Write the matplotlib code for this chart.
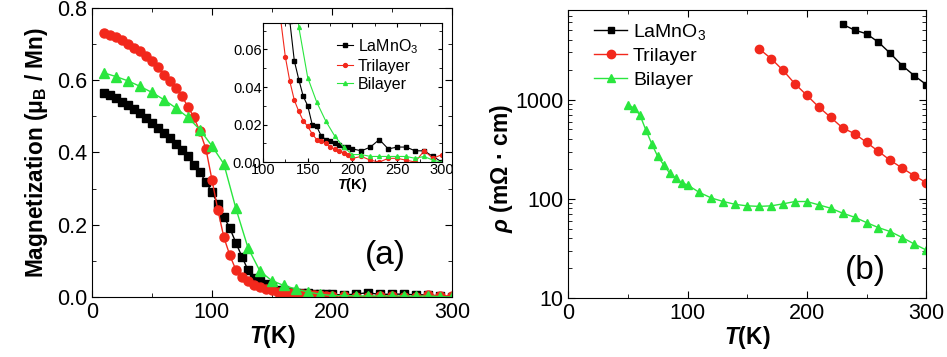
import numpy as np
import matplotlib
matplotlib.use("Agg")
import matplotlib.pyplot as plt
from matplotlib.ticker import MultipleLocator, LogLocator, NullFormatter, FixedLocator

plt.rcParams['font.family'] = ['Liberation Sans', 'DejaVu Sans']
plt.rcParams['mathtext.fontset'] = 'custom'
plt.rcParams['mathtext.rm'] = 'Liberation Sans'
plt.rcParams['mathtext.it'] = 'Liberation Sans:italic:bold'
plt.rcParams['mathtext.bf'] = 'Liberation Sans:bold'

# ---------------- Data: panel (a) magnetization ----------------
T_la_m = [10, 15, 20, 25, 30, 35, 40, 45, 50, 55, 60, 65, 70, 75, 80, 85, 90, 95, 100,
          105, 110, 115, 120, 125, 130, 135, 140, 145, 150, 155, 160, 165, 170, 175,
          180, 185, 190, 195, 200, 210, 220, 230, 240, 250, 260, 270, 280, 290, 300]
M_la = [0.565, 0.56, 0.55, 0.54, 0.53, 0.52, 0.508, 0.495, 0.482, 0.468, 0.455, 0.44,
        0.424, 0.408, 0.39, 0.365, 0.345, 0.318, 0.29, 0.258, 0.222, 0.19, 0.15, 0.112,
        0.075, 0.054, 0.044, 0.035, 0.030, 0.020, 0.019, 0.014, 0.012, 0.011, 0.010,
        0.009, 0.008, 0.008, 0.007, 0.006, 0.008, 0.012, 0.007, 0.008, 0.008, 0.006,
        0.006, 0.003, 0.000]

T_tri_m = [10, 15, 20, 25, 30, 35, 40, 45, 50, 55, 60, 65, 70, 75, 80, 85, 90, 95, 100,
           105, 110, 115, 120, 125, 130, 135, 140, 145, 150, 155, 160, 165, 170, 175,
           180, 185, 190, 195, 200, 210, 220, 230, 240, 250, 260, 270, 280, 290, 300]
M_tri = [0.73, 0.725, 0.718, 0.71, 0.70, 0.69, 0.68, 0.667, 0.652, 0.635, 0.615, 0.598,
         0.578, 0.555, 0.527, 0.497, 0.458, 0.41, 0.325, 0.24, 0.165, 0.115, 0.075,
         0.056, 0.043, 0.033, 0.027, 0.022, 0.019, 0.015, 0.012, 0.011, 0.010, 0.008,
         0.007, 0.006, 0.005, 0.004, 0.002, 0.003, 0.001, 0.000, 0.002, 0.002, 0.001,
         0.000, 0.006, 0.002, 0.004]

T_bi_m = [10, 20, 30, 40, 50, 60, 70, 80, 90, 100, 110, 120, 130, 140, 150, 160, 170,
          180, 190, 200, 210, 220, 230, 240, 250, 260, 270, 280, 290, 300]
M_bi = [0.62, 0.61, 0.598, 0.583, 0.566, 0.546, 0.523, 0.497, 0.463, 0.418, 0.368,
        0.245, 0.137, 0.072, 0.045, 0.032, 0.022, 0.014, 0.008, 0.004, 0.004, 0.003,
        0.003, 0.003, 0.003, 0.003, 0.002, 0.003, 0.001, 0.000]

# ---------------- Data: panel (b) resistivity ----------------
T_la_r = [230, 240, 250, 260, 270, 280, 290, 300]
R_la = [5730, 5020, 4610, 3790, 2920, 2200, 1745, 1420]

T_tri_r = [160, 170, 180, 190, 200, 210, 220, 230, 240, 250, 260, 270, 280, 290, 300]
R_tri = [3250, 2595, 1977, 1443, 1105, 843, 662, 518, 454, 371, 301, 244, 204, 171, 146]

T_bi_r = [50, 55, 60, 65, 70, 75, 80, 85, 90, 95, 100, 110, 120, 130, 140, 150, 160,
          170, 180, 190, 200, 210, 220, 230, 240, 250, 260, 270, 280, 290, 300]
R_bi = [890, 824, 705, 497, 359, 268, 220, 182, 162, 146, 138, 116, 102, 94, 88, 85,
        84, 85, 89, 94, 94, 87, 80.5, 71.7, 65.3, 57.7, 51.3, 46.8, 40.7, 35.1, 30.5]

labels = ['LaMnO$_3$', 'Trilayer', 'Bilayer']
c_black = '#000000'
c_red = '#f2281c'
c_green = '#2ae63e'

fig = plt.figure(figsize=(9.47, 3.57), dpi=100)

tick_kw = dict(direction='in', top=True, right=True, which='both')

# ---------- Panel (a) ----------
ax1 = fig.add_axes([0.0971, 0.168, 0.380, 0.810])
ax1.plot(T_la_m, M_la, '-s', color=c_black, ms=5.5, lw=1.0)
ax1.plot(T_tri_m, M_tri, '-o', color=c_red, ms=6.5, lw=1.0)
ax1.plot(T_bi_m, M_bi, '-^', color=c_green, ms=6.5, lw=1.0)
ax1.set_xlim(0, 300)
ax1.set_ylim(0, 0.8)
ax1.xaxis.set_major_locator(MultipleLocator(100))
ax1.xaxis.set_minor_locator(MultipleLocator(50))
ax1.yaxis.set_major_locator(MultipleLocator(0.2))
ax1.yaxis.set_minor_locator(MultipleLocator(0.1))
ax1.tick_params(**tick_kw)
ax1.tick_params(which='major', length=5, labelsize=15.5)
ax1.tick_params(which='minor', length=3)
ax1.set_xlabel('$T$(K)', fontsize=16.5, fontweight='bold', labelpad=0)
ax1.set_ylabel('Magnetization (μ$_\\mathbf{B}$ / Mn)', fontsize=16.3, fontweight='bold', labelpad=5)
ax1.text(0.814, 0.145, '(a)', transform=ax1.transAxes, fontsize=24,
         ha='center', va='center')

# inset
axi = fig.add_axes([0.2777, 0.546, 0.189, 0.389])
axi.plot(T_la_m, M_la, '-s', color=c_black, ms=2.8, lw=0.8, label=labels[0])
axi.plot(T_tri_m, M_tri, '-o', color=c_red, ms=2.8, lw=0.8, label=labels[1])
axi.plot(T_bi_m, M_bi, '-^', color=c_green, ms=2.8, lw=0.8, label=labels[2])
axi.set_xlim(100, 300)
axi.set_ylim(0, 0.074)
axi.xaxis.set_major_locator(MultipleLocator(50))
axi.xaxis.set_minor_locator(MultipleLocator(25))
axi.yaxis.set_major_locator(MultipleLocator(0.02))
axi.yaxis.set_minor_locator(MultipleLocator(0.01))
axi.tick_params(**tick_kw)
axi.tick_params(which='major', length=3, labelsize=10.5, pad=1)
axi.tick_params(which='minor', length=2)
axi.yaxis.set_major_formatter(matplotlib.ticker.FormatStrFormatter('%.2f'))
axi.set_xlabel('$T$(K)', fontsize=10.5, fontweight='bold', labelpad=-1)
axi.legend(loc='upper right', frameon=False, fontsize=11.5, handlelength=1.0,
           handletextpad=0.3, labelspacing=0.2, borderaxespad=0.2,
           bbox_to_anchor=(0.92, 0.97))

# ---------- Panel (b) ----------
ax2 = fig.add_axes([0.600, 0.165, 0.378, 0.807])
ax2.semilogy(T_la_r, R_la, '-s', color=c_black, ms=5, lw=1.0, label=labels[0])
ax2.semilogy(T_tri_r, R_tri, '-o', color=c_red, ms=6, lw=1.0, label=labels[1])
ax2.semilogy(T_bi_r, R_bi, '-^', color=c_green, ms=6, lw=1.0, label=labels[2])
ax2.set_xlim(0, 300)
ax2.set_ylim(10, 8000)
ax2.xaxis.set_major_locator(MultipleLocator(100))
ax2.xaxis.set_minor_locator(MultipleLocator(50))
ax2.yaxis.set_major_locator(FixedLocator([10, 100, 1000]))
ax2.yaxis.set_major_formatter(matplotlib.ticker.FixedFormatter(['10', '100', '1000']))
ax2.yaxis.set_minor_locator(LogLocator(base=10, subs=np.arange(2, 10)))
ax2.yaxis.set_minor_formatter(NullFormatter())
ax2.tick_params(**tick_kw)
ax2.tick_params(which='major', length=5, labelsize=15.5)
ax2.tick_params(which='minor', length=3)
ax2.set_xlabel('$T$(K)', fontsize=16.5, fontweight='bold', labelpad=0)
ax2.set_ylabel('$\\rho$ (mΩ · cm)', fontsize=16.5, fontweight='bold', labelpad=5)
ax2.yaxis.set_label_coords(-0.15, 0.45)
ax2.text(0.83, 0.097, '(b)', transform=ax2.transAxes, fontsize=24,
         ha='center', va='center')
ax2.legend(loc='upper left', frameon=False, fontsize=14, handlelength=1.7,
           handletextpad=0.3, labelspacing=0.3, borderaxespad=0.2,
           bbox_to_anchor=(0.04, 1.0))

fig.savefig('out.png', dpi=100)
